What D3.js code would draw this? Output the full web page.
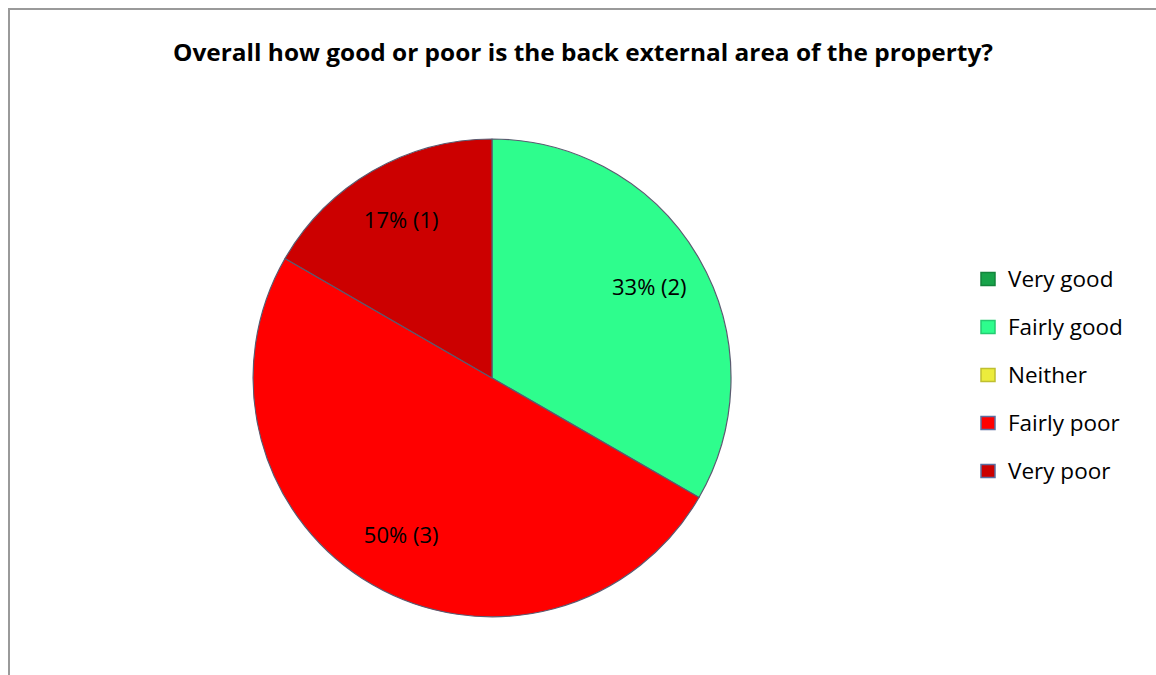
<!DOCTYPE html>
<html>
<head>
<meta charset="utf-8">
<script src="https://cdn.jsdelivr.net/npm/d3@7"></script>
<style>
  body { margin: 0; background: #fff; }
  svg { display: block; }
</style>
</head>
<body>
<div id="chart"></div>
<script>
var title = "Overall how good or poor is the back external area of the property?";
var categories = ["Very good", "Fairly good", "Neither", "Fairly poor", "Very poor"];
var counts = [0, 2, 0, 3, 1];
var colors = ["#17a34a", "#2efd8d", "#ecec3c", "#ff0000", "#cc0000"];

var width = 1156, height = 675;
var cx = 492, cy = 378, radius = 239;
var font = "'Open Sans', Lato, sans-serif";

var svg = d3.select("#chart")
    .append("svg")
    .attr("width", width)
    .attr("height", height);

// chart frame (only top and left edges visible in the crop)
svg.append("path")
    .attr("d", "M9,680 L9,9 L1160,9")
    .attr("fill", "none")
    .attr("stroke", "#9a9a9a")
    .attr("stroke-width", 2);

svg.append("text")
    .attr("x", 583)
    .attr("y", 61)
    .attr("text-anchor", "middle")
    .attr("font-family", font)
    .attr("font-weight", "bold")
    .attr("font-size", 23)
    .attr("textLength", 820)
    .attr("lengthAdjust", "spacingAndGlyphs")
    .text(title);

var data = categories.map(function(c, i) {
    return {name: c, value: counts[i], color: colors[i]};
});

var total = d3.sum(counts);

var pie = d3.pie()
    .sort(null)
    .value(function(d) { return d.value; });

var arc = d3.arc()
    .innerRadius(0)
    .outerRadius(radius);

var labelArc = d3.arc()
    .innerRadius(radius * 0.76)
    .outerRadius(radius * 0.76);

var g = svg.append("g")
    .attr("transform", "translate(" + cx + "," + cy + ")");

var arcs = pie(data).filter(function(d) { return d.data.value > 0; });

g.selectAll("path")
    .data(arcs)
    .join("path")
      .attr("d", arc)
      .attr("fill", function(d) { return d.data.color; })
      .attr("stroke", "#5a5a70")
      .attr("stroke-width", 1.2)
      .attr("stroke-linejoin", "round");

g.selectAll("text")
    .data(arcs)
    .join("text")
      .attr("transform", function(d) { return "translate(" + labelArc.centroid(d) + ")"; })
      .attr("text-anchor", "middle")
      .attr("dy", "0.35em")
      .attr("font-family", font)
      .attr("font-size", 22)
      .attr("fill", "#000")
      .text(function(d) {
          return Math.round(d.data.value / total * 100) + "% (" + d.data.value + ")";
      });

var legendY = d3.scalePoint()
    .domain(categories)
    .range([279, 471]);

var legend = svg.append("g")
    .selectAll("g")
    .data(data)
    .join("g")
      .attr("transform", function(d) { return "translate(981," + legendY(d.name) + ")"; });

legend.append("rect")
    .attr("x", 0)
    .attr("y", -6.5)
    .attr("width", 14)
    .attr("height", 13)
    .attr("fill", function(d) { return d.color; })
    .attr("stroke", function(d, i) { return i >= 3 ? "#5b6ea0" : d3.color(d.color).darker(0.6); })
    .attr("stroke-width", 1.5);

legend.append("text")
    .attr("x", 27)
    .attr("y", 0)
    .attr("dy", "0.35em")
    .attr("font-family", font)
    .attr("font-size", 22.5)
    .attr("fill", "#000")
    .text(function(d) { return d.name; });
</script>
</body>
</html>
